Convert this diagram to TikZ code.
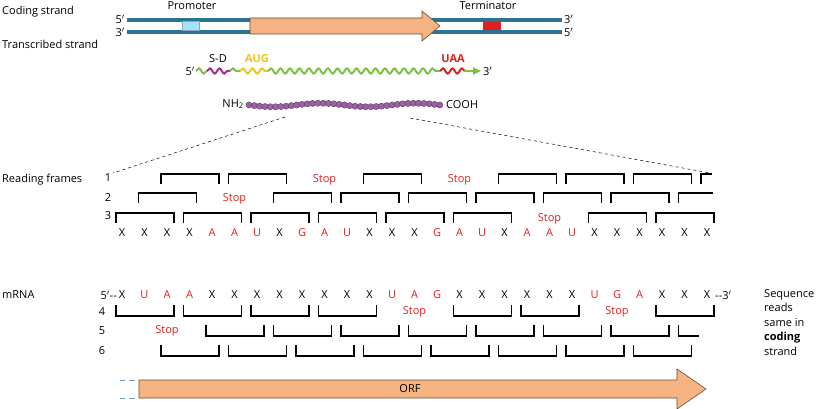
\documentclass[tikz,border=0pt]{standalone}
\usepackage{fontspec}
\setmainfont{Open Sans}
\usetikzlibrary{decorations.pathmorphing,arrows.meta}
\definecolor{dna}{HTML}{2B7393}
\definecolor{orf}{HTML}{F5B482}
\definecolor{orfd}{HTML}{6B4A30}
\definecolor{rd}{HTML}{E0201E}
\definecolor{gr}{HTML}{7CC242}
\definecolor{ye}{HTML}{F0C419}
\definecolor{mg}{HTML}{A0308F}
\definecolor{bead}{HTML}{9B62A3}
\tikzset{
 txt/.style={inner sep=0pt,font=\fontsize{11}{13}\selectfont},
 red/.style={txt,text=rd},
 br/.style={line width=1.1pt,black},
 wave/.style={line width=2pt,decorate,decoration={snake,segment length=9.5pt,amplitude=2.6pt}},
}
\def\myX{X}
\newcommand\lx[1]{122+(#1-1)*22.5}
\newcommand\tbr[2]{\pgfmathsetmacro\xa{\lx{#1}-6}\pgfmathsetmacro\xb{\lx{#1+2}+7}%
 \draw[br] (\xa,#2+10) -- (\xa,#2) -- (\xb,#2) -- (\xb,#2+10);}
\newcommand\bbr[2]{\pgfmathsetmacro\xa{\lx{#1}-6}\pgfmathsetmacro\xb{\lx{#1+2}+7}%
 \draw[br] (\xa,#2-11) -- (\xa,#2) -- (\xb,#2) -- (\xb,#2-11);}
\begin{document}
\begin{tikzpicture}[x=1pt,y=-1pt]
\useasboundingbox (0,0) rectangle (821,409);
% ---- DNA
\node[txt,anchor=west] (cs) at (2,12) {Coding strand};
\node[txt,anchor=west] (ts) at (2,44) {Transcribed strand};
\draw[dna,line width=3.5pt] (127,20) -- (562,20);
\draw[dna,line width=3.5pt] (127,32) -- (562,32);
\node[txt,anchor=east] (d5a) at (125,19) {5$'$};
\node[txt,anchor=east] (d3a) at (125,32) {3$'$};
\node[txt,anchor=west] (d3b) at (564,19) {3$'$};
\node[txt,anchor=west] (d5b) at (564,32) {5$'$};
\fill[cyan!35!white,draw=dna!60,line width=0.3pt] (182,21.5) rectangle (199,30.5);
\node[txt] (prom) at (192,6) {Promoter};
\fill[rd] (483,22) rectangle (501,30);
\node[txt] (term) at (488,6) {Terminator};
\draw[orfd,fill=orf,line width=0.6pt] (250,18) -- (422,18) -- (422,11) -- (440,26) -- (422,41) -- (422,34) -- (250,34) -- cycle;
% ---- mRNA
\node[txt,anchor=east] (m5) at (195,71) {5$'$};
\draw[wave,gr] (196,71) -- (207,71);
\draw[wave,mg] (207,71) -- (230,71);
\draw[wave,gr] (230,71) -- (240,71);
\draw[wave,ye] (240,71) -- (268,71);
\draw[wave,gr] (268,71) -- (440,71);
\draw[wave,rd] (440,71) -- (466,71);
\draw[gr,line width=2pt,-{Triangle[length=8pt,width=7pt]}] (464,71) -- (481,71);
\node[txt,anchor=west] (m3) at (483,71) {3$'$};
\node[txt] (sd) at (218,59) {S-D};
\node[txt,text=ye,font=\bfseries\fontsize{11}{13}\selectfont] (aug) at (257,59) {AUG};
\node[txt,text=rd,font=\bfseries\fontsize{11}{13}\selectfont] (uaa) at (453,59) {UAA};
% ---- protein
\node[txt,anchor=east] (nh) at (244,104) {NH\textsubscript{2}};
\foreach \i in {0,...,36} {
 \pgfmathsetmacro\bx{249+\i*5.3}
 \pgfmathsetmacro\by{105+1.8*sin(\i*20)}
 \fill[bead,draw=bead!60!black,line width=0.4pt] (\bx,\by) circle (3.1);
}
\node[txt,anchor=west] (co) at (446,105) {COOH};
\coordinate (pl) at (285,117);
\coordinate (pr) at (410,118);
\coordinate (fl) at (113,173);
\coordinate (fr) at (710,173);
\draw[dashed,line width=0.5pt] (pl) -- (fl);
\draw[dashed,line width=0.5pt] (pr) -- (fr);
% ---- reading frames
\node[txt,anchor=west] (rf) at (2,180) {Reading frames};
\node[txt] (f1) at (108,178) {1};
\node[txt] (f2) at (108,198) {2};
\node[txt] (f3) at (108,216) {3};
\foreach \L [count=\i] in {X,X,X,X,A,A,U,X,G,A,U,X,X,X,G,A,U,X,A,A,U,X,X,X,X,X,X} {
 \pgfmathsetmacro\px{\lx{\i}}
 \ifx\L\myX\node[txt] (t\i) at (\px,233) {X};\else\node[red] (t\i) at (\px,233) {\L};\fi
}
% frame 3
\foreach \k in {0,1,2,3,4,5,7,8} {\tbr{1+3*\k}{213}}
\node[red] (s3) at ({\lx{20}},219) {Stop};
% frame 2
\foreach \k in {0,2,3,4,5,6,7} {\tbr{2+3*\k}{193}}
\node[red] (s2) at ({\lx{6}},199) {Stop};
\draw[br] ({\lx{26}-6},203) -- ({\lx{26}-6},193) -- (713,193);
% frame 1
\foreach \k in {0,1,3,5,6,7} {\tbr{3+3*\k}{174}}
\node[red] (s1a) at ({\lx{10}},180) {Stop};
\node[red] (s1b) at ({\lx{16}},180) {Stop};
\draw[br] ({\lx{27}-6},184) -- ({\lx{27}-6},174) -- (712,174);
% ---- mRNA row
\node[txt,anchor=west] (mr) at (2,295) {mRNA};
\node[txt,anchor=east] (b5) at (117,295) {5$'$-{}-};
\node[txt,anchor=west] (b3) at (715,295) {-{}-3$'$};
\foreach \L [count=\i] in {X,U,A,A,X,X,X,X,X,X,X,X,U,A,G,X,X,X,X,X,X,U,G,A,X,X,X} {
 \pgfmathsetmacro\px{\lx{\i}}
 \ifx\L\myX\node[txt] (b\i) at (\px,295) {X};\else\node[red] (b\i) at (\px,295) {\L};\fi
}
\node[txt] (f4) at (102,312) {4};
\node[txt] (f5) at (102,331) {5};
\node[txt] (f6) at (102,351) {6};
\foreach \k in {0,1,2,3,5,6,8} {\bbr{1+3*\k}{316}}
\node[red] (s4a) at ({\lx{14}},312) {Stop};
\node[red] (s4b) at ({\lx{23}},312) {Stop};
\foreach \k in {1,...,7} {\bbr{2+3*\k}{336}}
\node[red] (s5) at ({\lx{3}},331) {Stop};
\draw[br] ({\lx{26}-6},325) -- ({\lx{26}-6},336) -- ({\lx{26}+14},336);
\foreach \k in {0,...,7} {\bbr{3+3*\k}{356}}
\node[txt,anchor=north west,align=left,font=\fontsize{11}{14.5}\selectfont] (sq) at (764,289) {Sequence\\reads\\same in\\\textbf{coding}\\strand};
% ---- ORF arrow
\draw[dna!70,line width=0.6pt] (120,380) -- (125,380) (129,380) -- (135,380);
\draw[dna!70,line width=0.6pt] (120,398) -- (125,398) (129,398) -- (135,398);
\draw[orfd,fill=orf,line width=0.6pt] (139,380) -- (677,380) -- (677,369) -- (706,389) -- (677,409) -- (677,398) -- (139,398) -- cycle;
\node[txt] (orfl) at (410,389) {ORF};
\end{tikzpicture}
\end{document}
